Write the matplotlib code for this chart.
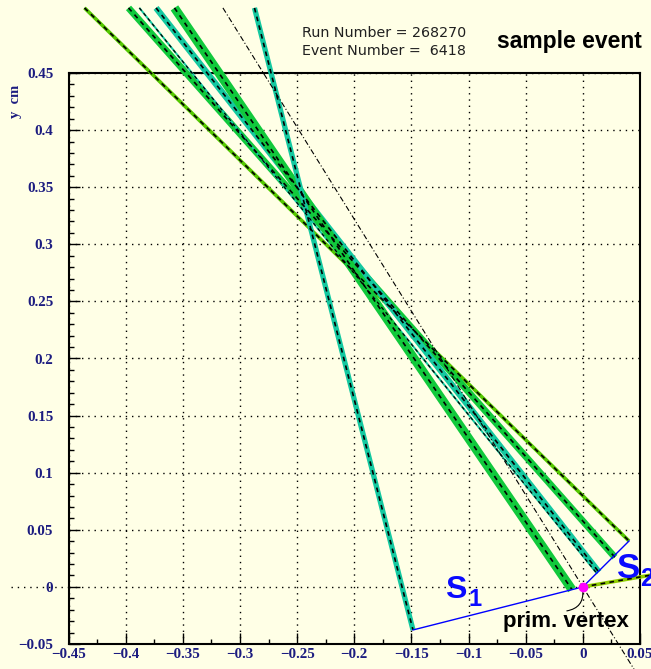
import matplotlib.pyplot as plt
from matplotlib.ticker import MultipleLocator, FuncFormatter

# reconstructed tracks: top crossing point at y = y_top, end point at the decay vertex
y_top = 0.507
track_x_top = [-0.436, -0.3975, -0.388, -0.3734, -0.3573, -0.2873]
track_x_end = [0.0404, 0.028, 0.0125, 0.014, -0.0095, -0.1486]
track_y_end = [0.0402, 0.026, 0.0115, 0.013, -0.0024, -0.0377]
track_kind = ['yg', 'green', 'thin', 'teal', 'wide', 'teal_s']

# vertices
prim_vtx = (0.0, 0.0)
s1_vtx = (-0.1486, -0.0377)
s2_vtx = (0.0404, 0.0402)
prim_track_end = (0.075, 0.013)

# straight line through the primary vertex
dd_slope = -1.61
dd_y = [0.507, -0.09]

run_number = 268270
event_number = 6418

W, H = 651, 669
bg = '#ffffe6'
navy = '#1c1c80'

styles = {
    'yg':     ('#55c800', 2.6),
    'green':  ('#11c93c', 4.9),
    'thin':   ('#14c8a0', 1.4),
    'teal':   ('#14c8a0', 4.5),
    'wide':   ('#11c93c', 6.5),
    'teal_s': ('#14c8a0', 3.8),
}

fig = plt.figure(figsize=(W / 100, H / 100), dpi=100, facecolor=bg)
ax = fig.add_axes([68.5 / W, 25 / H, 571.5 / W, 571 / H], facecolor=bg)
ax.set_xlim(-0.45, 0.05)
ax.set_ylim(-0.05, 0.45)


def fmt(v, pos):
    if abs(v) < 1e-9:
        return '0'
    return ('%g' % round(v, 3)).replace('-', '\u2212')


ax.xaxis.set_major_locator(MultipleLocator(0.05))
ax.xaxis.set_minor_locator(MultipleLocator(0.025))
ax.yaxis.set_major_locator(MultipleLocator(0.05))
ax.yaxis.set_minor_locator(MultipleLocator(0.01))
ax.xaxis.set_major_formatter(FuncFormatter(fmt))
ax.yaxis.set_major_formatter(FuncFormatter(fmt))
ax.tick_params(which='both', direction='in', color='k', width=1)
ax.tick_params(which='major', length=8)
ax.tick_params(which='minor', length=3.5)
ax.tick_params(axis='y', pad=11)
ax.tick_params(axis='x', pad=3)
for lab in ax.get_xticklabels() + ax.get_yticklabels():
    lab.set_fontfamily('Liberation Serif')
    lab.set_fontweight('bold')
    lab.set_fontsize(10.8)
    lab.set_color(navy)
for s in ax.spines.values():
    s.set_linewidth(1.5)

ax.set_axisbelow(True)
ax.grid(True, which='major', color='k', ls=(0, (1, 3.5)), lw=1)
# zero line continues to the left of the frame
ax.plot([-0.5, -0.45], [0, 0], color='k', ls=(0, (1, 3.5)), lw=1, clip_on=False)

# tracks
for xt, xe, ye, k in zip(track_x_top, track_x_end, track_y_end, track_kind):
    c, w = styles[k]
    ax.plot([xt, xe], [y_top, ye], color=c, lw=w, solid_capstyle='butt', clip_on=False, zorder=3)
    ax.plot([xt, xe], [y_top, ye], color='k', lw=1.2 if k != 'thin' else 0.9,
            ls=(0, (2.8, 2.6)), clip_on=False, zorder=4)

# short track from the primary vertex
ax.plot([prim_vtx[0], prim_track_end[0]], [prim_vtx[1], prim_track_end[1]],
        color='#8fcc00', lw=2.6, solid_capstyle='butt', clip_on=False, zorder=3)
ax.plot([prim_vtx[0], prim_track_end[0]], [prim_vtx[1], prim_track_end[1]],
        color='k', lw=1.2, ls=(0, (2.8, 2.6)), clip_on=False, zorder=4)

# dash-dotted line
ax.plot([y / dd_slope for y in dd_y], dd_y, color='k', lw=0.8,
        ls=(0, (5, 2, 1, 2)), clip_on=False, zorder=4)

# connections to the secondary vertices
ax.plot([prim_vtx[0], s1_vtx[0]], [prim_vtx[1], s1_vtx[1]], color='#0000ff', lw=1, clip_on=False, zorder=5)
ax.plot([prim_vtx[0], s2_vtx[0]], [prim_vtx[1], s2_vtx[1]], color='#0000ff', lw=1, clip_on=False, zorder=5)
ax.plot([prim_vtx[0]], [prim_vtx[1]], 'o', color='#ff00ff', ms=6, mec='#ff00ff', clip_on=False, zorder=6)

ax.annotate('', xy=(0.0, -0.003), xytext=(-0.014, -0.021),
            arrowprops=dict(arrowstyle='-', color='k', lw=0.8,
                            connectionstyle='arc3,rad=0.45', shrinkA=0, shrinkB=0))


def ftxt(x, y, s, **kw):
    fig.text(x / W, 1 - y / H, s, **kw)


ftxt(503, 627, 'prim. vertex', fontfamily='Liberation Sans', fontweight='bold',
     fontsize=16, color='k', va='baseline')
ftxt(445, 598, 'S', fontfamily='Liberation Sans', fontweight='bold', fontsize=23,
     color='#0a0aff', va='baseline')
ftxt(468, 606, '1', fontfamily='Liberation Sans', fontweight='bold', fontsize=17,
     color='#0a0aff', va='baseline')
ftxt(617, 578, 'S', fontfamily='Liberation Sans', fontweight='bold', fontsize=25,
     color='#0a0aff', va='baseline')
ftxt(640, 586, '2', fontfamily='Liberation Sans', fontweight='bold', fontsize=18,
     color='#0a0aff', va='baseline')

ftxt(302, 37, 'Run Number = %d' % run_number, fontfamily='DejaVu Sans', fontsize=10.3,
     color='#202020', va='baseline')
ftxt(302, 55, 'Event Number =  %d' % event_number, fontfamily='DejaVu Sans', fontsize=10.3,
     color='#202020', va='baseline')
ftxt(497, 48, 'sample event', fontfamily='Liberation Sans', fontweight='bold', fontsize=16.5,
     color='k', va='baseline')
ftxt(16, 101, 'y  cm', fontfamily='Liberation Serif', fontweight='bold', fontsize=10.5,
     color=navy, rotation=90, ha='center', va='center')

fig.savefig('out.png', dpi=100, facecolor=bg)
